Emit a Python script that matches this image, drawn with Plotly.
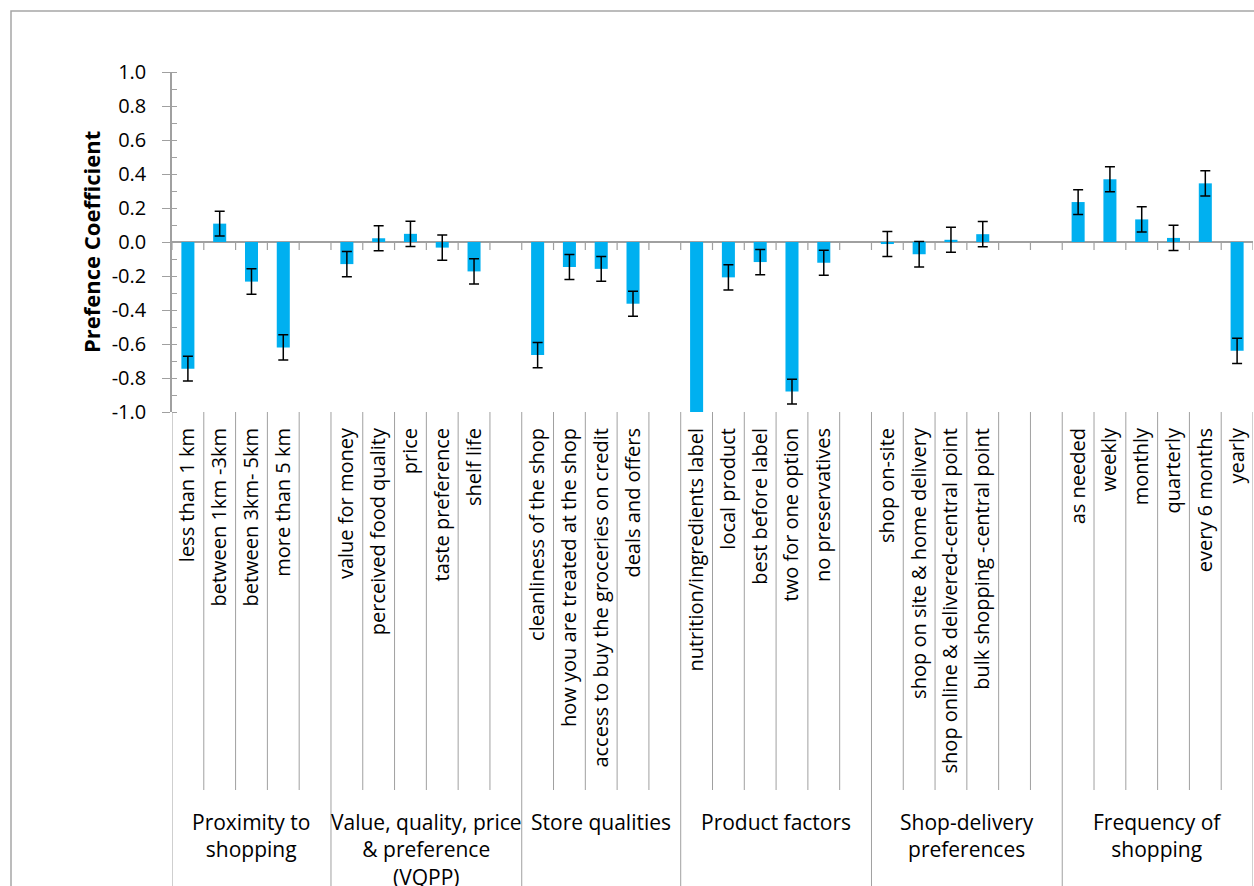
import plotly.graph_objects as go

# ---------------- data ----------------
group_names = [
    "Proximity to<br>shopping",
    "Value, quality, price<br>&amp; preference<br>(VQPP)",
    "Store qualities",
    "Product factors",
    "Shop-delivery<br>preferences",
    "Frequency of<br>shopping",
]

proximity_labels = ["less than 1 km", "between 1km -3km", "between 3km- 5km", "more than 5 km"]
proximity_values = [-0.745, 0.108, -0.233, -0.620]
proximity_errors = [0.073, 0.073, 0.075, 0.074]

vqpp_labels = ["value for money", "perceived food quality", "price", "taste preference", "shelf life"]
vqpp_values = [-0.130, 0.022, 0.048, -0.033, -0.173]
vqpp_errors = [0.074, 0.074, 0.074, 0.074, 0.074]

store_labels = ["cleanliness of the shop", "how you are treated at the shop",
                "access to buy the groceries on credit", "deals and offers"]
store_values = [-0.665, -0.147, -0.158, -0.363]
store_errors = [0.074, 0.073, 0.073, 0.074]

product_labels = ["nutrition/ingredients label", "local product", "best before label",
                  "two for one option", "no preservatives"]
product_values = [-1.15, -0.208, -0.118, -0.880, -0.122]
product_errors = [0.074, 0.074, 0.074, 0.073, 0.074]

delivery_labels = ["shop on-site", "shop on site & home delivery",
                   "shop online & delivered-central point", "bulk shopping -central point"]
delivery_values = [-0.012, -0.072, 0.013, 0.046]
delivery_errors = [0.074, 0.075, 0.074, 0.074]

frequency_labels = ["as needed", "weekly", "monthly", "quarterly", "every 6 months", "yearly"]
frequency_values = [0.235, 0.369, 0.133, 0.024, 0.345, -0.640]
frequency_errors = [0.073, 0.073, 0.074, 0.074, 0.074, 0.074]

y_tick_values = [-1.0, -0.8, -0.6, -0.4, -0.2, 0.0, 0.2, 0.4, 0.6, 0.8, 1.0]
y_tick_labels = ["-1.0", "-0.8", "-0.6", "-0.4", "-0.2", "0.0", "0.2", "0.4", "0.6", "0.8", "1.0"]

y_title = "Prefence Coefficient"

# ---------------- layout structure ----------------
group_labels = [proximity_labels, vqpp_labels, store_labels, product_labels, delivery_labels, frequency_labels]
group_values = [proximity_values, vqpp_values, store_values, product_values, delivery_values, frequency_values]
group_errors = [proximity_errors, vqpp_errors, store_errors, product_errors, delivery_errors, frequency_errors]
group_gaps = [1, 1, 1, 1, 2, 0]  # empty category slots after each group

xs, labels, vals, errs = [], [], [], []
group_bounds = []
slot = 0
for labs, vs, es, gap in zip(group_labels, group_values, group_errors, group_gaps):
    start = slot
    for l, v, e in zip(labs, vs, es):
        xs.append(slot)
        labels.append(l)
        vals.append(v)
        errs.append(e)
        slot += 1
    slot += gap
    group_bounds.append((start - 0.5, slot - 0.5))
n_slots = slot

AX = "#a0a0a0"
FONT = "Open Sans"
W, H = 1254, 886
L, R, T, B = 172, 1, 72, 474
pw, ph = W - L - R, H - T - B


def py(pix):  # pixel y -> paper y
    return (H - B - pix) / ph


def px(pix):  # pixel x -> paper x
    return (pix - L) / pw


fig = go.Figure()
fig.add_trace(go.Bar(
    x=xs, y=vals, width=0.41,
    marker=dict(color="#00b0f0", line=dict(width=0)),
    error_y=dict(type="data", array=errs, color="black", thickness=1.5, width=5),
    cliponaxis=True,
    hoverinfo="skip",
))

shapes = []
# frame
shapes.append(dict(type="rect", xref="paper", yref="paper",
                   x0=px(11), x1=px(1320), y0=py(11), y1=py(960),
                   line=dict(color="#a6a6a6", width=1.5), fillcolor="rgba(0,0,0,0)", layer="below"))
group_edges = set()
for a, b in group_bounds:
    group_edges.add(a)
    group_edges.add(b)
for k in range(n_slots + 1):
    xb = k - 0.5
    # tick marks on the zero line
    shapes.append(dict(type="line", xref="x", yref="y", x0=xb, x1=xb, y0=0, y1=-8 / 170,
                       line=dict(color=AX, width=1.2)))
    # category dividers in label area
    bottom = py(900) if xb in group_edges else py(790)
    shapes.append(dict(type="line", xref="x", yref="paper", x0=xb, x1=xb, y0=py(412), y1=bottom,
                       line=dict(color=AX, width=1)))

annotations = []
for (a, b), name in zip(group_bounds, group_names):
    annotations.append(dict(x=(a + b) / 2, xref="x", y=py(806), yref="paper",
                            text=name, showarrow=False, xanchor="center", yanchor="top",
                            font=dict(family=FONT, size=21, color="black")))
annotations.append(dict(x=px(91), xref="paper", y=0.5, yref="paper", text="<b>%s</b>" % y_title,
                        textangle=-90, showarrow=False, xanchor="center", yanchor="middle",
                        font=dict(family=FONT, size=22, color="black")))

fig.update_layout(
    width=W, height=H,
    margin=dict(l=L, r=R, t=T, b=B, pad=0),
    paper_bgcolor="white", plot_bgcolor="white",
    showlegend=False,
    bargap=0.59,
    shapes=shapes,
    annotations=annotations,
    font=dict(family=FONT, color="black"),
    xaxis=dict(range=[-0.5, n_slots - 0.5], tickmode="array", tickvals=xs, ticktext=labels,
               tickangle=-90, tickfont=dict(family=FONT, size=20, color="black"),
               showgrid=False, zeroline=False, showline=False, ticks="",
               ticklabelstandoff=11, automargin=False, fixedrange=True),
    yaxis=dict(range=[-1, 1], tickmode="array", tickvals=y_tick_values, ticktext=y_tick_labels,
               tickfont=dict(family=FONT, size=20, color="black"),
               ticks="outside", ticklen=8, tickcolor=AX, tickwidth=1.2,
               minor=dict(ticks="inside", ticklen=5, dtick=0.1, tick0=0, tickcolor=AX, tickwidth=1.2),
               showline=True, linecolor=AX, linewidth=1.5,
               zeroline=True, zerolinecolor=AX, zerolinewidth=1.5,
               showgrid=False, ticklabelstandoff=12, automargin=False, fixedrange=True),
)

fig.write_html("out.html")
